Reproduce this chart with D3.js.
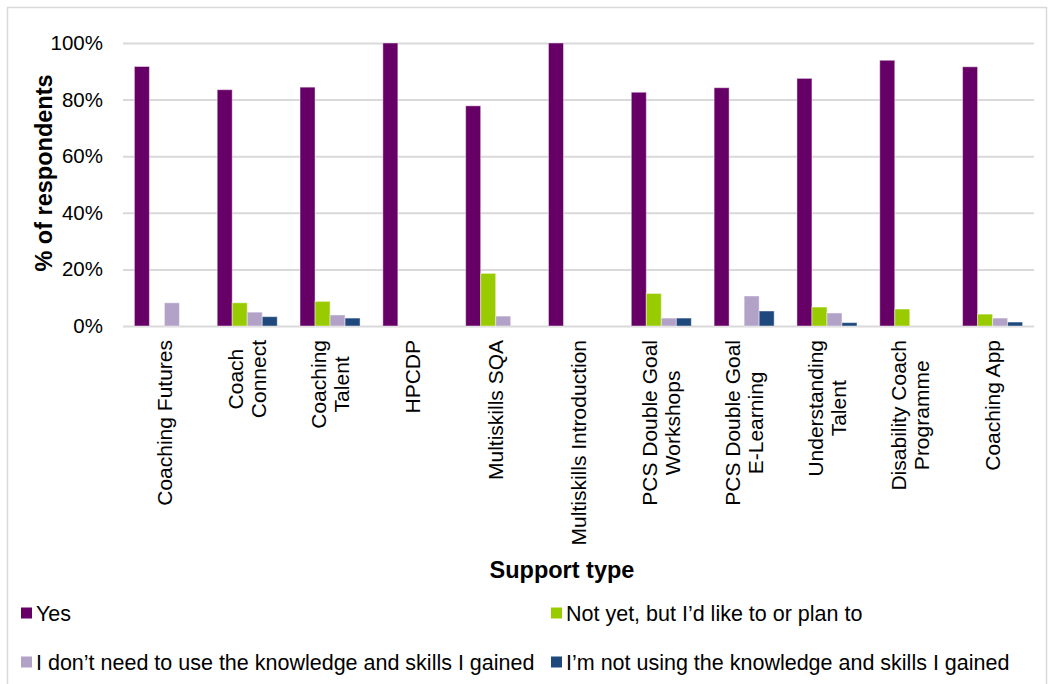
<!DOCTYPE html>
<html lang="en">
<head>
    <meta charset="UTF-8">
    <title>Support type</title>
    <script src="https://d3js.org/d3.v7.min.js"></script>
    <style>
        body { margin: 0; background: #fff; }
        svg { display: block; font-family: "Liberation Sans", Arial, sans-serif; }
    </style>
</head>
<body>
    <svg width="1054" height="684"></svg>
    <script>
        const categories = [
            "Coaching Futures", "Coach|Connect", "Coaching|Talent", "HPCDP",
            "Multiskills SQA", "Multiskills Introduction", "PCS Double Goal|Workshops",
            "PCS Double Goal|E-Learning", "Understanding|Talent",
            "Disability Coach|Programme", "Coaching App"
        ];
        const seriesNames = [
            "Yes",
            "Not yet, but I\u2019d like to or plan to",
            "I don\u2019t need to use the knowledge and skills I gained",
            "I\u2019m not using the knowledge and skills I gained"
        ];
        const yesValues     = [91.7, 83.5, 84.4, 100, 77.8, 100, 82.6, 84.2, 87.5, 93.9, 91.6];
        const notYetValues  = [0, 8.2, 8.7, 0, 18.6, 0, 11.5, 0, 6.7, 6.0, 4.2];
        const noNeedValues  = [8.2, 4.9, 3.9, 0, 3.5, 0, 2.8, 10.6, 4.6, 0, 2.8];
        const notUsingValues = [0, 3.3, 2.8, 0, 0, 0, 2.8, 5.3, 1.2, 0, 1.4];
        const yTicks = [0, 20, 40, 60, 80, 100];
        const colors = ["#660066", "#99cc00", "#b3a2c7", "#1f497d"];

        const allSeries = [yesValues, notYetValues, noNeedValues, notUsingValues];

        const svg = d3.select("svg");

        // outer chart frame
        svg.append("rect")
            .attr("x", 7.5).attr("y", 7.5)
            .attr("width", 1039).attr("height", 700)
            .attr("fill", "none")
            .attr("stroke", "#d9d9d9")
            .attr("stroke-width", 1.5);

        const x0 = d3.scaleBand()
            .domain(categories)
            .range([123, 1034])
            .paddingInner(0.275)
            .paddingOuter(0.1375);

        const x1 = d3.scaleBand()
            .domain(d3.range(seriesNames.length))
            .range([0, x0.bandwidth()]);

        const y = d3.scaleLinear()
            .domain([0, 100])
            .range([326, 43]);

        // gridlines + y labels
        const yAxis = d3.axisLeft(y)
            .tickValues(yTicks)
            .tickSize(-(1034 - 123))
            .tickPadding(20)
            .tickFormat(d => d + "%");

        const gy = svg.append("g")
            .attr("transform", "translate(123,0)")
            .call(yAxis);
        gy.select(".domain").remove();
        gy.selectAll(".tick line")
            .attr("stroke", "#d9d9d9")
            .attr("stroke-width", 2);
        gy.selectAll(".tick text")
            .attr("font-size", 20.5)
            .attr("fill", "#000")
            .attr("font-family", "Liberation Sans, Arial, sans-serif");

        // bars
        const groups = svg.append("g")
            .selectAll("g")
            .data(categories)
            .join("g")
            .attr("transform", d => `translate(${x0(d)},0)`);

        groups.selectAll("rect")
            .data((d, i) => allSeries.map((s, k) => ({ k: k, v: s[i] })))
            .join("rect")
            .filter(d => d.v > 0)
            .attr("x", d => x1(d.k))
            .attr("width", x1.bandwidth())
            .attr("y", d => y(d.v))
            .attr("height", d => y(0) - y(d.v))
            .attr("fill", d => colors[d.k])
            .attr("stroke", "rgba(255,255,255,0.45)")
            .attr("stroke-width", 1);

        // category labels, rotated, lines centred
        const lineH = 23;
        categories.forEach(cat => {
            const lines = cat.split("|");
            const cx = x0(cat) + x0.bandwidth() / 2;
            const g = svg.append("g");
            const texts = lines.map((ln, i) => g.append("text")
                .attr("font-size", 21)
                .attr("text-anchor", "middle")
                .attr("fill", "#000")
                .text(ln));
            const maxW = d3.max(texts, t => t.node().getComputedTextLength());
            const cy = 340 + maxW / 2;
            texts.forEach((t, i) => {
                const lx = cx + (i - (lines.length - 1) / 2) * lineH + 7.5;
                t.attr("transform", `translate(${lx},${cy}) rotate(-90)`);
            });
        });

        // axis titles
        svg.append("text")
            .attr("transform", "translate(52,173) rotate(-90)")
            .attr("text-anchor", "middle")
            .attr("font-size", 23.5)
            .attr("font-weight", "bold")
            .text("% of respondents");

        svg.append("text")
            .attr("x", 562).attr("y", 578)
            .attr("text-anchor", "middle")
            .attr("font-size", 23.5)
            .attr("font-weight", "bold")
            .text("Support type");

        // legend
        const legendPos = [[21, 613], [551, 613], [21, 662], [551, 662]];
        const legend = svg.append("g")
            .selectAll("g")
            .data(seriesNames)
            .join("g")
            .attr("transform", (d, i) => `translate(${legendPos[i][0]},${legendPos[i][1]})`);
        legend.append("rect")
            .attr("x", 0).attr("y", -5.5)
            .attr("width", 11).attr("height", 11)
            .attr("fill", (d, i) => colors[i]);
        legend.append("text")
            .attr("x", 15).attr("y", 7.5)
            .attr("font-size", 21.5)
            .text(d => d);
    </script>
</body>
</html>
